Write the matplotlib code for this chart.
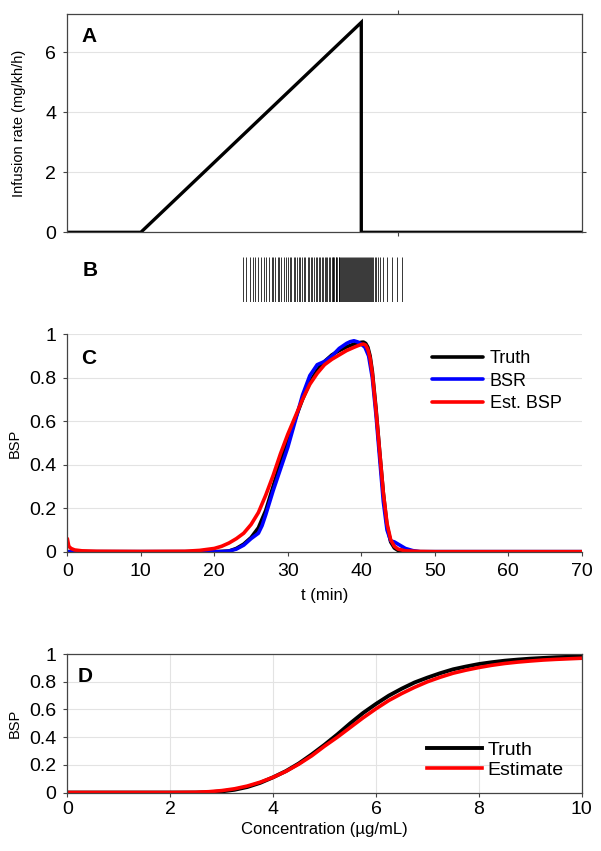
import numpy as np
import matplotlib
matplotlib.use('Agg')
import matplotlib.pyplot as plt

plt.rcParams['font.family'] = ['Liberation Sans', 'DejaVu Sans']

# panel A: infusion schedule
inf_t = [0, 10, 40, 40, 70]
inf_rate = [0, 0, 7, 0, 0]

# panel B: spike times (min)
spikes = [23.9, 24.3, 24.8, 25.2, 25.5, 25.9, 26.4, 26.7, 27.1, 27.4, 27.8, 28.0,
          28.3, 28.6, 28.8, 29.1,
          29.5, 29.8, 30.0, 30.3, 30.5, 30.8, 31.0, 31.3, 31.5, 31.7, 32.0, 32.2,
          32.4, 32.7, 32.9, 33.1, 33.3, 33.5, 33.8, 34.0, 34.2, 34.4, 34.6, 34.8,
          35.0, 35.2, 35.4, 35.6,
          35.8, 35.95, 36.1, 36.2, 36.35, 36.5, 36.6, 36.75, 36.9, 37.0, 37.15, 37.3,
          37.4, 37.55, 37.7, 37.8, 37.95, 38.1, 38.2, 38.35, 38.5, 38.6, 38.75, 38.9,
          39.0, 39.15, 39.3, 39.4, 39.55, 39.7, 39.8, 39.95, 40.1, 40.2, 40.35, 40.5,
          40.6, 40.75, 40.9, 41.0, 41.15, 41.3, 41.45, 41.6, 41.8, 42.0,
          42.3, 42.6, 43.0, 43.5, 44.2, 44.9, 45.6]

# panel C: BSP over time
truth_t = [0, 10, 20, 22, 23, 24, 25, 26, 27, 28, 29, 30, 31, 32, 33, 34, 35, 36,
           37, 38, 39, 39.5, 40, 40.3, 40.6, 40.9, 41.2, 41.5, 42, 42.5, 43, 43.5,
           44, 44.5, 45, 46, 50, 70]
truth_bsp = [0, 0, 0, 0.003, 0.015, 0.035, 0.065, 0.11, 0.19, 0.3, 0.41, 0.51, 0.61,
             0.7, 0.78, 0.835, 0.875, 0.905, 0.925, 0.942, 0.955, 0.96, 0.963, 0.964,
             0.958, 0.94, 0.9, 0.83, 0.66, 0.46, 0.27, 0.12, 0.045, 0.017, 0.006, 0,
             0, 0]

bsr_t = [0, 10, 21, 22, 23, 24, 25, 26, 26.5, 27, 28, 29, 30, 31, 32, 33, 34, 35,
         36, 37, 38, 38.5, 39, 39.5, 40, 40.5, 41, 41.5, 42, 42.5, 43, 43.5, 44, 44.5,
         45, 46, 47, 48, 50, 70]
bsr_bsp = [0, 0, 0, 0.003, 0.012, 0.03, 0.06, 0.085, 0.12, 0.17, 0.28, 0.38, 0.48,
           0.6, 0.72, 0.81, 0.86, 0.875, 0.9, 0.935, 0.958, 0.966, 0.97, 0.965, 0.955,
           0.94, 0.9, 0.8, 0.63, 0.43, 0.23, 0.1, 0.05, 0.045, 0.035, 0.015, 0.005,
           0, 0, 0]

est_t = [0, 0.2, 0.5, 1, 2, 4, 10, 16, 18, 20, 21, 22, 23, 24, 25, 26, 27, 28, 29,
         30, 31, 32, 33, 34, 35, 36, 37, 38, 39, 39.5, 40, 40.3, 40.6, 40.9, 41.2,
         41.5, 42, 42.5, 43, 43.5, 44, 44.5, 45, 46, 48, 50, 70]
est_bsp = [0.06, 0.025, 0.015, 0.008, 0.004, 0.002, 0.001, 0.002, 0.006, 0.015, 0.025,
           0.04, 0.06, 0.085, 0.125, 0.18, 0.26, 0.35, 0.45, 0.54, 0.62, 0.7, 0.77,
           0.82, 0.86, 0.885, 0.905, 0.925, 0.94, 0.947, 0.953, 0.955, 0.95, 0.93,
           0.89, 0.82, 0.65, 0.46, 0.27, 0.13, 0.055, 0.025, 0.012, 0.004, 0.001, 0, 0]

# panel D: concentration-response
conc = [0, 2, 2.5, 2.75, 3, 3.25, 3.5, 3.75, 4, 4.25, 4.5, 4.75, 5, 5.25, 5.5, 5.75,
        6, 6.25, 6.5, 6.75, 7, 7.25, 7.5, 7.75, 8, 8.25, 8.5, 8.75, 9, 9.25, 9.5,
        9.75, 10]
truth_d = [0, 0, 0, 0.002, 0.008, 0.02, 0.04, 0.07, 0.11, 0.155, 0.21, 0.275, 0.345,
           0.42, 0.5, 0.575, 0.64, 0.7, 0.75, 0.795, 0.83, 0.862, 0.89, 0.91, 0.928,
           0.941, 0.952, 0.96, 0.967, 0.972, 0.977, 0.98, 0.982]
est_d = [0, 0, 0.002, 0.006, 0.014, 0.027, 0.047, 0.075, 0.11, 0.153, 0.205, 0.265,
         0.335, 0.4, 0.47, 0.54, 0.605, 0.665, 0.715, 0.76, 0.8, 0.833, 0.862, 0.884,
         0.903, 0.919, 0.932, 0.942, 0.95, 0.957, 0.962, 0.966, 0.97]

fig = plt.figure(figsize=(6.01, 8.51), dpi=100)
spc = '#444444'
gridc = '#e3e3e3'


def style(ax):
    for s in ax.spines.values():
        s.set_color(spc)
        s.set_linewidth(0.9)
    ax.tick_params(direction='out', length=3, width=0.8, color=spc,
                   labelsize=14, pad=5)


# A
axA = fig.add_axes([0.112, 0.727, 0.856, 0.2562])
axA.plot(inf_t, inf_rate, color='black', lw=2.4, solid_joinstyle='miter')
axA.set_xlim(0, 70)
axA.set_ylim(0, 7.27)
axA.set_yticks([0, 2, 4, 6])
axA.set_xticks([45])
axA.set_xticklabels([])
axA.tick_params(top=True, right=True)
axA.yaxis.grid(True, color=gridc, lw=0.8)
axA.set_axisbelow(True)
style(axA)
axA.set_ylabel('Infusion rate (mg/kh/h)', fontsize=10.5, labelpad=14)
axA.text(0.027, 0.9, 'A', transform=axA.transAxes, fontsize=15, fontweight='bold',
         va='center')

# B
axB = fig.add_axes([0.112, 0.645, 0.856, 0.053])
axB.eventplot(spikes, colors='black', linewidths=0.55, lineoffsets=0.5,
              linelengths=1)
axB.set_xlim(0, 70)
axB.set_ylim(0, 1)
axB.axis('off')
fig.text(0.137, 0.682, 'B', fontsize=15, fontweight='bold', va='center')

# C
lk = dict(lw=2.6, solid_joinstyle='round', solid_capstyle='round')
axC = fig.add_axes([0.112, 0.3517, 0.856, 0.2555])
axC.plot(truth_t, truth_bsp, color='black', label='Truth', **lk)
axC.plot(bsr_t, bsr_bsp, color='#0000ff', label='BSR', **lk)
axC.plot(est_t, est_bsp, color='#ff0000', label='Est. BSP', **lk)
axC.set_xlim(0, 70)
axC.set_ylim(0, 1)
axC.set_xticks(range(0, 71, 10))
axC.set_yticks([0, 0.2, 0.4, 0.6, 0.8, 1])
axC.set_yticklabels(['0', '0.2', '0.4', '0.6', '0.8', '1'])
axC.yaxis.grid(True, color=gridc, lw=0.8)
axC.set_axisbelow(True)
axC.spines['top'].set_visible(False)
axC.spines['right'].set_visible(False)
style(axC)
axC.set_ylabel('BSP', fontsize=10.5, labelpad=5)
axC.set_xlabel('t (min)', fontsize=12, labelpad=6)
axC.text(0.027, 0.89, 'C', transform=axC.transAxes, fontsize=15, fontweight='bold',
         va='center')
axC.legend(loc='upper right', bbox_to_anchor=(0.975, 0.96), frameon=False,
           fontsize=13, handlelength=2.8, handletextpad=0.4, labelspacing=0.3,
           borderaxespad=0)

# D
axD = fig.add_axes([0.112, 0.0687, 0.856, 0.1627])
axD.plot(conc, truth_d, color='black', lw=2.8, label='Truth')
axD.plot(conc, est_d, color='#ff0000', lw=2.6, label='Estimate')
axD.set_xlim(0, 10)
axD.set_ylim(0, 1)
axD.set_xticks([0, 2, 4, 6, 8, 10])
axD.set_yticks([0, 0.2, 0.4, 0.6, 0.8, 1])
axD.set_yticklabels(['0', '0.2', '0.4', '0.6', '0.8', '1'])
axD.grid(True, color=gridc, lw=0.8)
axD.set_axisbelow(True)
style(axD)
axD.tick_params(axis='x', pad=3)
axD.set_ylabel('BSP', fontsize=10.5, labelpad=5)
axD.set_xlabel('Concentration (\u00b5g/mL)', fontsize=12, labelpad=3)
axD.text(0.02, 0.84, 'D', transform=axD.transAxes, fontsize=15, fontweight='bold',
         va='center')
axD.legend(loc='lower right', bbox_to_anchor=(0.98, 0.04), frameon=False,
           fontsize=14, handlelength=2.8, handletextpad=0.3, labelspacing=0.15,
           borderaxespad=0)

fig.savefig('out.png', dpi=100)
